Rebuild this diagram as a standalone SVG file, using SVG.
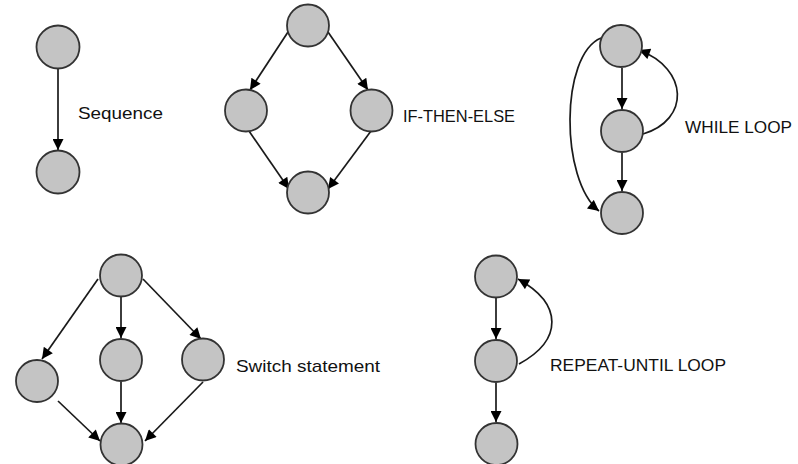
<svg xmlns="http://www.w3.org/2000/svg" width="798" height="464" viewBox="0 0 798 464">
<style>
.n{fill:#c4c4c4;stroke:#333;stroke-width:1.8}
.e{fill:none;stroke:#1a1a1a;stroke-width:1.7;marker-end:url(#ah)}
.t{font-family:"Liberation Sans",Arial,sans-serif;font-size:17px;fill:#111}
</style>
<defs>
<marker id="ah" viewBox="0 0 10 10" refX="10" refY="5" markerWidth="13" markerHeight="11" markerUnits="userSpaceOnUse" orient="auto">
<path d="M0,0 L10,5 L0,10 Z" fill="#000"/>
</marker>
</defs>
<rect width="798" height="464" fill="#fff"/>
<g id="connectors">
<line class="e" x1="58" y1="69" x2="58" y2="150"/>
<line class="e" x1="288" y1="32" x2="250" y2="90"/>
<line class="e" x1="328" y1="32" x2="368" y2="90"/>
<line class="e" x1="249" y1="131" x2="289" y2="189"/>
<line class="e" x1="371" y1="131" x2="328" y2="189"/>
<line class="e" x1="622" y1="68" x2="622" y2="109"/>
<line class="e" x1="622" y1="153" x2="622" y2="191"/>
<path class="e" d="M643,134 C690,120 689,69 639,50"/>
<path class="e" d="M601,38 C560,55 560,180 599,211"/>
<line class="e" x1="98" y1="279" x2="42" y2="359"/>
<line class="e" x1="121" y1="297" x2="121" y2="338"/>
<line class="e" x1="143" y1="279" x2="201" y2="339"/>
<line class="e" x1="58" y1="401" x2="100" y2="441"/>
<line class="e" x1="121" y1="382" x2="121" y2="423"/>
<line class="e" x1="203" y1="382" x2="145" y2="441"/>
<line class="e" x1="496" y1="298" x2="496" y2="339"/>
<line class="e" x1="496" y1="383" x2="496" y2="422"/>
<path class="e" d="M519,364 C563,340 563,304 518,279"/>
</g>
<g id="seq1"><circle class="n" cx="58" cy="47" r="21.5"/></g>
<g id="seq2"><circle class="n" cx="58" cy="172" r="21.5"/></g>
<g id="ite1"><circle class="n" cx="308" cy="25.5" r="21"/></g>
<g id="ite2"><circle class="n" cx="246" cy="110.5" r="21"/></g>
<g id="ite3"><circle class="n" cx="371.5" cy="110.5" r="21"/></g>
<g id="ite4"><circle class="n" cx="308" cy="192.5" r="21"/></g>
<g id="wl1"><circle class="n" cx="621" cy="46" r="21"/></g>
<g id="wl2"><circle class="n" cx="622" cy="131" r="21"/></g>
<g id="wl3"><circle class="n" cx="622" cy="213" r="21"/></g>
<g id="sw1"><circle class="n" cx="121" cy="275.5" r="21"/></g>
<g id="sw2"><circle class="n" cx="37" cy="381" r="21"/></g>
<g id="sw3"><circle class="n" cx="121" cy="360" r="21"/></g>
<g id="sw4"><circle class="n" cx="203" cy="359.5" r="21"/></g>
<g id="sw5"><circle class="n" cx="121.5" cy="444.5" r="21"/></g>
<g id="ru1"><circle class="n" cx="496" cy="276.5" r="21"/></g>
<g id="ru2"><circle class="n" cx="496" cy="361" r="21"/></g>
<g id="ru3"><circle class="n" cx="496.5" cy="444" r="21"/></g>
<g id="labels">
<text class="t" x="78" y="119" textLength="85" lengthAdjust="spacingAndGlyphs">Sequence</text>
<text class="t" x="403" y="122" textLength="112" lengthAdjust="spacingAndGlyphs">IF-THEN-ELSE</text>
<text class="t" x="685" y="133" textLength="107" lengthAdjust="spacingAndGlyphs">WHILE LOOP</text>
<text class="t" x="236" y="372" textLength="144" lengthAdjust="spacingAndGlyphs">Switch statement</text>
<text class="t" x="550" y="371" textLength="176" lengthAdjust="spacingAndGlyphs">REPEAT-UNTIL LOOP</text>
</g>
</svg>
